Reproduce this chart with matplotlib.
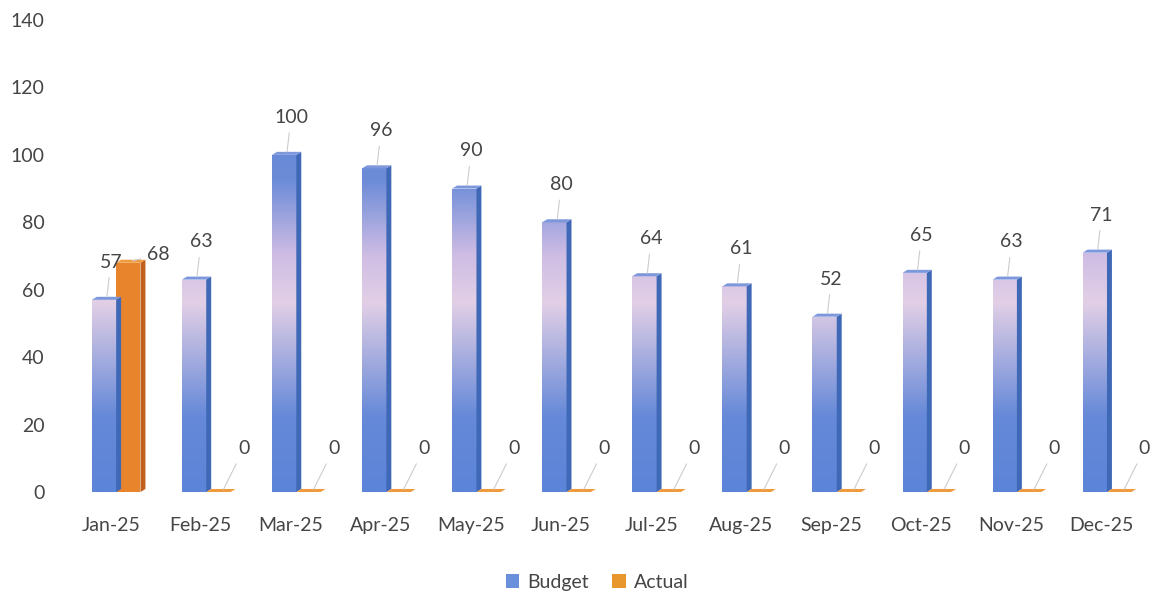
import numpy as np
import matplotlib
matplotlib.use("Agg")
import matplotlib.pyplot as plt
from matplotlib.colors import LinearSegmentedColormap
from matplotlib.patches import Polygon, Patch

months = ["Jan-25", "Feb-25", "Mar-25", "Apr-25", "May-25", "Jun-25",
          "Jul-25", "Aug-25", "Sep-25", "Oct-25", "Nov-25", "Dec-25"]
budget = [57, 63, 100, 96, 90, 80, 64, 61, 52, 65, 63, 71]
actual = [68, 0, 0, 0, 0, 0, 0, 0, 0, 0, 0, 0]

plt.rcParams['font.family'] = ['Lato', 'DejaVu Sans']
TXT = '#454545'
FS = 14

fig = plt.figure(figsize=(11.66, 5.94), dpi=100)
ax = fig.add_axes([0.061, 0.1717, 0.927, 0.7946])
ax.set_xlim(-0.5, 11.5)
ax.set_ylim(0, 140)

W = 0.27
DX, DY = 0.055, 0.9
x = np.arange(len(months))

grad = LinearSegmentedColormap.from_list(
    'g', [(0.0, '#5c84d8'), (0.16, '#6689d8'), (0.40, '#e2cfe6'),
          (0.50, '#cfbde4'), (0.66, '#6c8cd8'), (1.0, '#5a80d6')])
gimg = np.linspace(0, 1, 256).reshape(-1, 1)

bud_bars = ax.bar(x - W, budget, width=W, align='edge', color='none', linewidth=0, zorder=2)
act_bars = ax.bar(x, actual, width=W, align='edge', color='#e8842c', linewidth=0, zorder=2)

for b in bud_bars:
    bx, bw, bh = b.get_x(), b.get_width(), b.get_height()
    im = ax.imshow(gimg, cmap=grad, aspect='auto', origin='lower',
                   extent=(bx, bx + bw, 0, 140), zorder=2)
    im.set_clip_path(b)
    ax.add_patch(Polygon([(bx + bw, 0), (bx + bw + DX, DY), (bx + bw + DX, bh + DY), (bx + bw, bh)],
                         closed=True, facecolor='#3f68b6', edgecolor='none', zorder=2))
    ax.add_patch(Polygon([(bx, bh), (bx + bw, bh), (bx + bw + DX, bh + DY), (bx + DX, bh + DY)],
                         closed=True, facecolor='#7d97dc', edgecolor='none', zorder=2))

for b in act_bars:
    bx, bw, bh = b.get_x(), b.get_width(), b.get_height()
    ax.add_patch(Polygon([(bx + bw, 0), (bx + bw + DX, DY), (bx + bw + DX, bh + DY), (bx + bw, bh)],
                         closed=True, facecolor='#c0601c', edgecolor='none', zorder=2))
    ax.add_patch(Polygon([(bx, bh), (bx + bw, bh), (bx + bw + DX, bh + DY), (bx + DX, bh + DY)],
                         closed=True, facecolor='#f09a3e', edgecolor='none', zorder=2))

lead = dict(arrowstyle='-', color='#cccccc', lw=0.8, shrinkA=3, shrinkB=1)
for b, v in zip(bud_bars, budget):
    cx = b.get_x() + b.get_width() / 2
    ax.annotate(str(v), xy=(cx + 0.03, v + DY / 2), xytext=(3, 26), textcoords='offset points',
                ha='center', va='center', fontsize=FS, color=TXT, arrowprops=lead, zorder=3)
for b, v in zip(act_bars, actual):
    cx = b.get_x() + b.get_width() / 2
    if v > 0:
        ax.annotate(str(v), xy=(cx + 0.03, v + DY / 2), xytext=(20, 5), textcoords='offset points',
                    ha='center', va='center', fontsize=FS, color=TXT, arrowprops=lead, zorder=3)
    else:
        ax.annotate(str(v), xy=(cx + 0.05, v + DY / 2), xytext=(15, 30), textcoords='offset points',
                    ha='center', va='center', fontsize=FS, color=TXT, arrowprops=lead, zorder=3)

ax.set_xticks(x - 0.06)
ax.set_xticklabels(months)
ax.set_yticks(np.arange(0, 141, 20))
ax.tick_params(axis='x', length=0, pad=18, labelsize=FS, labelcolor=TXT)
ax.tick_params(axis='y', length=0, pad=19, labelsize=FS, labelcolor=TXT)
for s in ax.spines.values():
    s.set_visible(False)

handles = [Patch(facecolor='#6a90dc', label='Budget'), Patch(facecolor='#e8962e', label='Actual')]
fig.legend(handles=handles, loc='center', bbox_to_anchor=(0.512, 0.02), ncol=2, frameon=False,
           fontsize=FS, handlelength=0.7, handleheight=0.7, handletextpad=0.4, columnspacing=1.2,
           labelcolor=TXT)

fig.savefig('out.png', dpi=100)
